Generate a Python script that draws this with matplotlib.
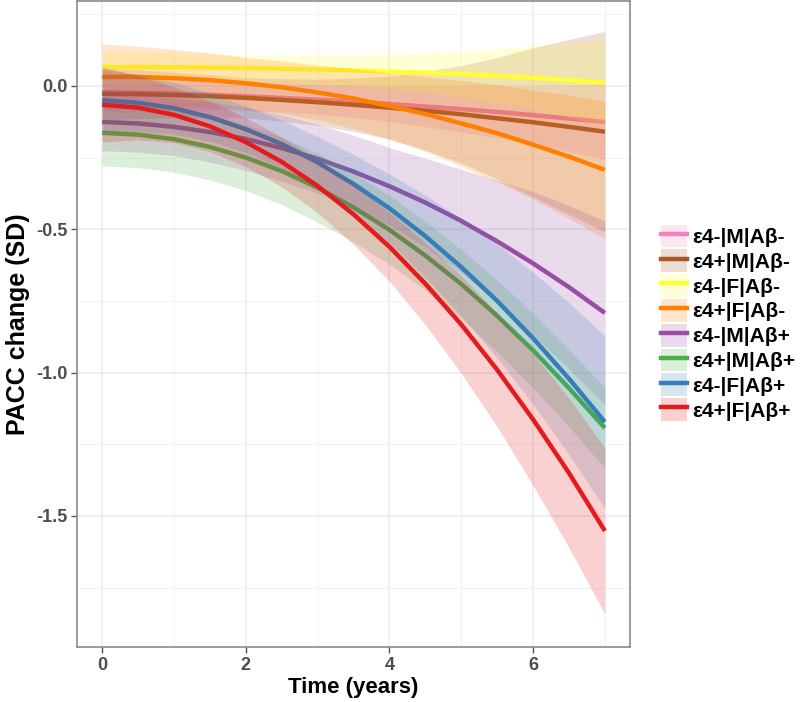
import matplotlib
matplotlib.use("Agg")
import matplotlib.pyplot as plt
import numpy as np
from matplotlib.patches import Patch
from matplotlib.lines import Line2D

plt.rcParams['font.family'] = ['Liberation Sans', 'DejaVu Sans']

# time points (years)
time = [0, .5, 1, 1.5, 2, 2.5, 3, 3.5, 4, 4.5, 5, 5.5, 6, 6.5, 7]

labels = ["ε4-|M|Aβ-", "ε4+|M|Aβ-", "ε4-|F|Aβ-", "ε4+|F|Aβ-",
          "ε4-|M|Aβ+", "ε4+|M|Aβ+", "ε4-|F|Aβ+", "ε4+|F|Aβ+"]
colors = ["#F781BF", "#A65628", "#FFFF33", "#FF7F00",
          "#984EA3", "#4DAF4A", "#377EB8", "#E41A1C"]

# fitted PACC change per group
fit_pink = [-.022, -.024, -.027, -.031, -.036, -.042, -.048, -.055, -.063, -.072, -.081, -.091, -.102, -.114, -.126]
fit_brown = [-.028, -.029, -.032, -.036, -.042, -.049, -.057, -.066, -.076, -.087, -.099, -.113, -.127, -.143, -.160]
fit_yellow = [.066, .066, .065, .064, .062, .060, .057, .054, .050, .046, .041, .035, .028, .020, .012]
fit_orange = [.031, .031, .027, .020, .009, -.005, -.023, -.044, -.070, -.098, -.131, -.165, -.205, -.247, -.293]
fit_purple = [-.126, -.131, -.143, -.161, -.185, -.217, -.254, -.299, -.350, -.407, -.471, -.542, -.619, -.702, -.792]
fit_green = [-.164, -.170, -.186, -.213, -.250, -.297, -.355, -.424, -.502, -.592, -.691, -.802, -.922, -1.054, -1.193]
fit_blue = [-.050, -.059, -.078, -.109, -.151, -.203, -.267, -.342, -.427, -.524, -.632, -.750, -.880, -1.021, -1.172]
fit_red = [-.066, -.076, -.101, -.141, -.196, -.265, -.349, -.448, -.561, -.690, -.832, -.990, -1.163, -1.350, -1.552]

# half width of the confidence band
band_pink = [.07, .065, .06, .055, .05, .05, .05, .055, .06, .07, .08, .09, .10, .115, .13]
band_brown = [.09, .085, .08, .075, .07, .074, .08, .093, .11, .137, .17, .212, .26, .305, .35]
band_yellow = [.055, .052, .05, .047, .045, .047, .05, .055, .06, .069, .08, .094, .11, .13, .15]
band_orange = [.115, .107, .10, .095, .09, .092, .095, .105, .115, .13, .15, .17, .19, .215, .24]
band_purple = [.10, .10, .10, .105, .11, .115, .12, .127, .135, .155, .18, .213, .25, .285, .32]
band_green = [.115, .115, .115, .115, .115, .117, .12, .12, .12, .12, .12, .125, .13, .135, .14]
band_blue = [.11, .099, .09, .084, .08, .084, .09, .103, .12, .143, .17, .199, .23, .265, .30]
band_red = [.13, .112, .097, .088, .085, .087, .093, .105, .12, .143, .17, .199, .23, .26, .29]

fits = [fit_pink, fit_brown, fit_yellow, fit_orange, fit_purple, fit_green, fit_blue, fit_red]
bands = [band_pink, band_brown, band_yellow, band_orange, band_purple, band_green, band_blue, band_red]

fig = plt.figure(figsize=(8, 7.02), dpi=100)
ax = fig.add_axes([0.09625, 0.0783, 0.69125, 0.9203])

z = 3
for fit, band, c in zip(fits, bands, colors):
    f = np.array(fit)
    b = np.array(band)
    ax.fill_between(time, f - b, f + b, color=c, alpha=0.2, linewidth=0, zorder=z)
    ax.plot(time, fit, color=c, linewidth=3.2, solid_capstyle='butt', zorder=z + 1)
    z += 2

ax.set_xlim(-0.35, 7.35)
ax.set_ylim(-1.957, 0.296)
ax.set_xticks([0, 2, 4, 6])
ax.set_xticks([1, 3, 5, 7], minor=True)
ax.set_yticks([0, -0.5, -1.0, -1.5])
ax.set_yticks([0.25, -0.25, -0.75, -1.25, -1.75], minor=True)
ax.set_yticklabels(["0.0", "-0.5", "-1.0", "-1.5"])
ax.grid(which='major', color='#ebebeb', linewidth=1.1, zorder=0)
ax.grid(which='minor', color='#f3f3f3', linewidth=0.7, zorder=0)
ax.set_axisbelow(True)
ax.tick_params(which='major', length=4, width=1, color='#555555',
               labelcolor='#4d4d4d', labelsize=13, pad=3)
ax.tick_params(which='minor', length=0)
for lab in ax.get_xticklabels() + ax.get_yticklabels():
    lab.set_fontweight('bold')
for s in ax.spines.values():
    s.set_color('#8a8a8a')
    s.set_linewidth(1.2)

ax.set_xlabel("Time (years)", fontsize=16, fontweight='bold', labelpad=2)
ax.set_ylabel("PACC change (SD)", fontsize=18, fontweight='bold', labelpad=4)

handles = [(Patch(facecolor=c, alpha=0.2, edgecolor='none'),
            Line2D([], [], color=c, linewidth=3.2)) for c in colors]
leg = fig.legend(handles, labels, loc='upper left',
                 bbox_to_anchor=(0.826, 0.68), frameon=False,
                 borderpad=0, borderaxespad=0,
                 handlelength=1.25, handleheight=1.3, handletextpad=0.25,
                 labelspacing=0.1,
                 prop={'weight': 'bold', 'size': 15})

fig.savefig("out.png", dpi=100)
